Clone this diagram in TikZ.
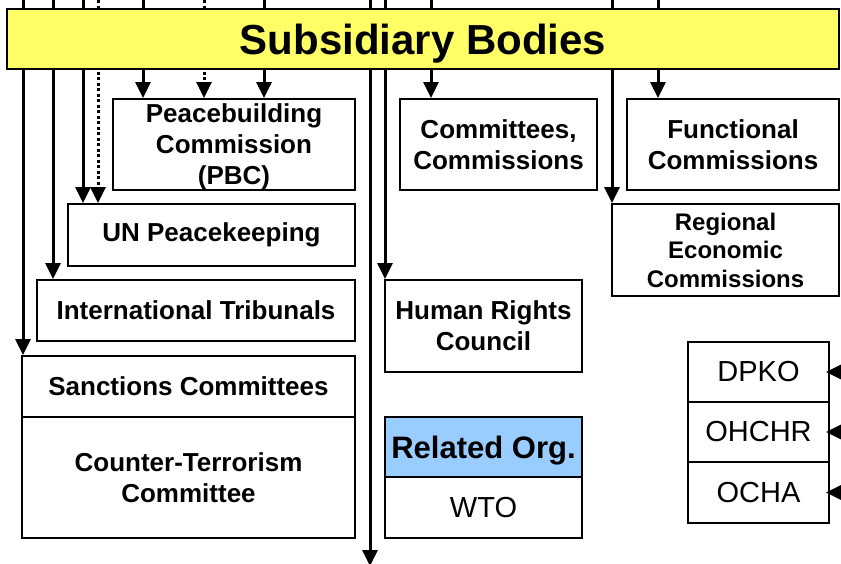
\documentclass[tikz,border=0pt]{standalone}
\usepackage{fontspec}
\setmainfont{Liberation Sans}
\usetikzlibrary{positioning,arrows.meta}
\definecolor{bannerfill}{HTML}{FFFF66}
\definecolor{orgfill}{HTML}{99CCFF}

\begin{document}
\begin{tikzpicture}[x=1pt,y=-1pt,
	organ/.style={draw,line width=2pt,fill=white,inner sep=0pt,align=center,font=\bfseries\fontsize{26}{31}\selectfont},
	office/.style={draw,line width=2pt,fill=white,inner sep=0pt,font=\fontsize{29}{34}\selectfont,minimum width=141pt,minimum height=60pt},
	link/.style={line width=3pt,-{Triangle[width=15pt,length=16pt]}},
	dotlink/.style={link,dash pattern=on 3pt off 2.5pt}]
	\useasboundingbox (0,0) rectangle (841,563);

	% left column
	\node[organ,minimum width=242pt,minimum height=91pt,text depth=0pt] (pbc) at (234,144.5) {Peacebuilding\\Commission\\(PBC)};
	\node[organ,minimum width=287pt,minimum height=62pt] (peacekeeping) at (211.5,235) {UN Peacekeeping};
	\node[organ,minimum width=318pt,minimum height=61pt] (tribunals) at (196,310.5) {International Tribunals};
	\node[organ,minimum width=333pt,minimum height=61pt] (sanctions) at (188.5,386.5) {Sanctions Committees};
	\node[organ,minimum width=333pt,minimum height=121pt] (terror) at (188.5,477.5) {Counter-Terrorism\\Committee};

	% middle column
	\node[organ,minimum width=197pt,minimum height=91pt] (committees) at (498.5,144.5) {Committees,\\Commissions};
	\node[organ,minimum width=197pt,minimum height=92pt] (hrc) at (483.5,326) {Human Rights\\Council};
	\node[organ,fill=orgfill,minimum width=197pt,minimum height=60pt,text depth=0pt,font=\bfseries\fontsize{31}{36}\selectfont] (related) at (483.5,447) {Related Org.};
	\node[office,minimum width=197pt,minimum height=61pt] (wto) at (483.5,507.5) {WTO};

	% right column
	\node[organ,minimum width=212pt,minimum height=91pt] (functional) at (733,144.5) {Functional\\Commissions};
	\node[organ,minimum width=227pt,minimum height=92pt,font=\bfseries\fontsize{24}{28.5}\selectfont] (regional) at (725.5,250) {Regional\\Economic\\Commissions};
	\node[office] (dpko) at (758.5,372) {DPKO};
	\node[office] (ohchr) at (758.5,432) {OHCHR};
	\node[office,minimum height=61pt] (ocha) at (758.5,492.5) {OCHA};

	\foreach \x/\target/\kind in {23/sanctions/link,53/tribunals/link,83/peacekeeping/link,98/peacekeeping/dotlink,
		143/pbc/link,204/pbc/dotlink,264/pbc/link,385/hrc/link,431/committees/link,612/regional/link,658/functional/link}
		\draw[\kind] (\x,0) coordinate (top\x) -- (top\x |- \target.north);
	\coordinate (down) at (370,566);
	\draw[link] (370,0) coordinate (top370) -- (down);

	\foreach \o in {dpko,ohchr,ocha}{
		\path (\o.east) ++(22,0) coordinate (src\o);
		\draw[link,shorten >=-4pt] (src\o) -- (\o.east);
	}

	\node[draw,line width=2pt,fill=bannerfill,inner sep=0pt,minimum width=832pt,minimum height=60pt,text depth=0pt,
		font=\bfseries\fontsize{42}{50}\selectfont] (subsid) at (423,39) {Subsidiary Bodies};
\end{tikzpicture}
\end{document}
